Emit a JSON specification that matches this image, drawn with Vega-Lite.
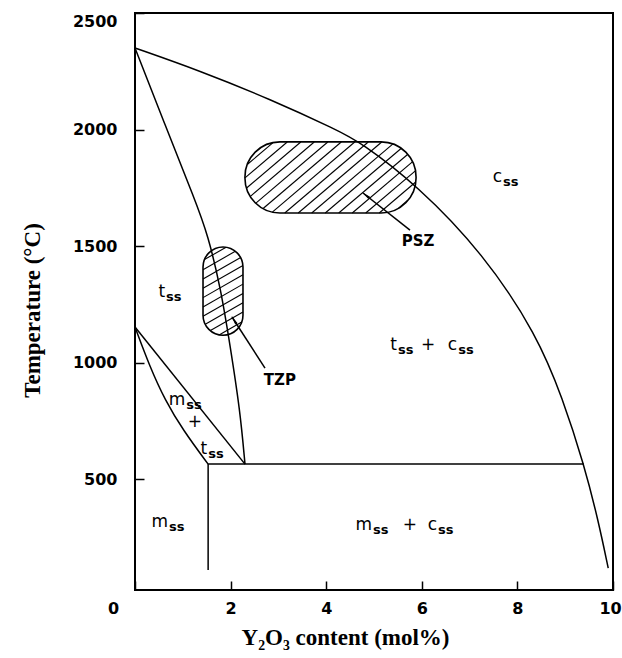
{
  "$schema": "https://vega.github.io/schema/vega-lite/v6.json",
  "width": 478,
  "height": 577,
  "autosize": "none",
  "padding": {"left": 135, "top": 13, "right": 9, "bottom": 68},
  "background": "white",
  "datasets": {
    "curves": [
      {"curve": "cubic", "i": 0, "x": 0, "T": 2350},
      {"curve": "cubic", "i": 1, "x": 1.36, "T": 2252},
      {"curve": "cubic", "i": 2, "x": 2.82, "T": 2131},
      {"curve": "cubic", "i": 3, "x": 4.23, "T": 1998},
      {"curve": "cubic", "i": 4, "x": 4.71, "T": 1947},
      {"curve": "cubic", "i": 5, "x": 5.9, "T": 1762},
      {"curve": "cubic", "i": 6, "x": 7.28, "T": 1470},
      {"curve": "cubic", "i": 7, "x": 8.41, "T": 1120},
      {"curve": "cubic", "i": 8, "x": 8.95, "T": 845},
      {"curve": "cubic", "i": 9, "x": 9.39, "T": 565},
      {"curve": "cubic", "i": 10, "x": 9.69, "T": 325},
      {"curve": "cubic", "i": 11, "x": 9.9, "T": 119},
      {"curve": "tetragonal", "i": 0, "x": 0, "T": 2350},
      {"curve": "tetragonal", "i": 1, "x": 0.628, "T": 2020},
      {"curve": "tetragonal", "i": 2, "x": 1.255, "T": 1698},
      {"curve": "tetragonal", "i": 3, "x": 1.527, "T": 1548},
      {"curve": "tetragonal", "i": 4, "x": 1.799, "T": 1312},
      {"curve": "tetragonal", "i": 5, "x": 1.987, "T": 1076},
      {"curve": "tetragonal", "i": 6, "x": 2.197, "T": 797},
      {"curve": "tetragonal", "i": 7, "x": 2.301, "T": 565},
      {"curve": "monoclinic", "i": 0, "x": 0, "T": 1153},
      {"curve": "monoclinic", "i": 1, "x": 0.314, "T": 981},
      {"curve": "monoclinic", "i": 2, "x": 0.628, "T": 840},
      {"curve": "monoclinic", "i": 3, "x": 1.004, "T": 711},
      {"curve": "monoclinic", "i": 4, "x": 1.53, "T": 565}
    ],
    "segments": [
      {"name": "t / m+t", "x": 0, "T": 1153, "x2": 2.301, "T2": 565},
      {"name": "eutectoid", "x": 1.53, "T": 565, "x2": 9.39, "T2": 565},
      {"name": "m / m+c", "x": 1.53, "T": 565, "x2": 1.53, "T2": 111},
      {"name": "PSZ leader", "x": 5.753, "T": 1569, "x2": 4.77, "T2": 1728},
      {"name": "TZP leader", "x": 2.72, "T": 977, "x2": 2.029, "T2": 1196}
    ],
    "zones": [
      {"zone": "PSZ", "x": 2.3, "x2": 5.88, "T": 1947, "T2": 1642},
      {"zone": "TZP", "x": 1.423, "x2": 2.259, "T": 1496, "T2": 1118}
    ],
    "hatch": [
      {"zone": "PSZ", "x": 2.882, "T": 1943.0, "x2": 2.355, "T2": 1851.1},
      {"zone": "PSZ", "x": 3.185, "T": 1946.7, "x2": 2.301, "T2": 1792.6},
      {"zone": "PSZ", "x": 3.468, "T": 1946.7, "x2": 2.335, "T2": 1749.2},
      {"zone": "PSZ", "x": 3.75, "T": 1946.7, "x2": 2.414, "T2": 1713.7},
      {"zone": "PSZ", "x": 4.033, "T": 1946.7, "x2": 2.529, "T2": 1684.6},
      {"zone": "PSZ", "x": 4.315, "T": 1946.7, "x2": 2.68, "T2": 1661.6},
      {"zone": "PSZ", "x": 4.597, "T": 1946.7, "x2": 2.873, "T2": 1646.1},
      {"zone": "PSZ", "x": 4.88, "T": 1946.7, "x2": 3.133, "T2": 1642.1},
      {"zone": "PSZ", "x": 5.162, "T": 1946.6, "x2": 3.415, "T2": 1642.1},
      {"zone": "PSZ", "x": 5.391, "T": 1937.3, "x2": 3.697, "T2": 1642.1},
      {"zone": "PSZ", "x": 5.566, "T": 1918.6, "x2": 3.98, "T2": 1642.1},
      {"zone": "PSZ", "x": 5.702, "T": 1893.0, "x2": 4.262, "T2": 1642.1},
      {"zone": "PSZ", "x": 5.803, "T": 1861.4, "x2": 4.545, "T2": 1642.1},
      {"zone": "PSZ", "x": 5.865, "T": 1823.0, "x2": 4.827, "T2": 1642.1},
      {"zone": "PSZ", "x": 5.873, "T": 1775.1, "x2": 5.11, "T2": 1642.1},
      {"zone": "PSZ", "x": 5.707, "T": 1697.0, "x2": 5.513, "T2": 1663.2},
      {"zone": "TZP", "x": 1.906, "T": 1495.2, "x2": 1.452, "T2": 1442.3},
      {"zone": "TZP", "x": 2.099, "T": 1478.0, "x2": 1.423, "T2": 1398.9},
      {"zone": "TZP", "x": 2.21, "T": 1451.0, "x2": 1.423, "T2": 1359.0},
      {"zone": "TZP", "x": 2.258, "T": 1416.8, "x2": 1.423, "T2": 1319.1},
      {"zone": "TZP", "x": 2.259, "T": 1377.0, "x2": 1.423, "T2": 1279.2},
      {"zone": "TZP", "x": 2.259, "T": 1337.1, "x2": 1.423, "T2": 1239.3},
      {"zone": "TZP", "x": 2.259, "T": 1297.2, "x2": 1.423, "T2": 1199.5},
      {"zone": "TZP", "x": 2.259, "T": 1257.3, "x2": 1.47, "T2": 1165.0},
      {"zone": "TZP", "x": 2.259, "T": 1217.4, "x2": 1.578, "T2": 1137.8},
      {"zone": "TZP", "x": 2.233, "T": 1174.4, "x2": 1.768, "T2": 1120.1}
    ],
    "arrowheads": [
      {"name": "PSZ", "x": 4.85, "T": 1715},
      {"name": "TZP", "x": 2.086, "T": 1178}
    ],
    "phases": [
      {"main": "t", "sub": "ss", "x": 0.63, "T": 1303},
      {"main": "c", "sub": "ss", "x": 7.68, "T": 1796},
      {"main": "t", "sub": "ss", "x": 5.48, "T": 1076},
      {"main": "c", "sub": "ss", "x": 6.74, "T": 1076},
      {"main": "m", "sub": "ss", "x": 1.05, "T": 840},
      {"main": "t", "sub": "ss", "x": 1.51, "T": 630},
      {"main": "m", "sub": "ss", "x": 0.69, "T": 317},
      {"main": "m", "sub": "ss", "x": 4.96, "T": 304},
      {"main": "c", "sub": "ss", "x": 6.32, "T": 304}
    ],
    "plus": [
      {"text": "+", "x": 6.13, "T": 1076},
      {"text": "+", "x": 1.255, "T": 746},
      {"text": "+", "x": 5.75, "T": 304}
    ],
    "tags": [
      {"text": "PSZ", "x": 5.92, "T": 1522},
      {"text": "TZP", "x": 3.03, "T": 926}
    ]
  },
  "encoding": {
    "x": {
      "field": "x",
      "type": "quantitative",
      "scale": {"domain": [0, 10], "nice": false, "zero": false},
      "axis": {
        "title": "Y₂O₃ content (mol%)",
        "titleX": 210,
        "values": [0, 2, 4, 6, 8, 10],
        "format": "d",
        "labelFlush": false,
        "offset": -9,
        "labelPadding": 10,
        "labelOffset": {
          "condition": [
            {"test": "datum.value === 0", "value": -22},
            {"test": "datum.value === 10", "value": -3}
          ],
          "value": 0
        },
        "titlePadding": 10
      }
    },
    "y": {
      "field": "T",
      "type": "quantitative",
      "scale": {"domain": [25, 2500], "nice": false, "zero": false},
      "axis": {
        "title": "Temperature (°C)",
        "titleY": 297,
        "values": [500, 1000, 1500, 2000, 2500],
        "format": "d",
        "labelFlush": true,
        "offset": -9,
        "labelPadding": 18,
        "titlePadding": 28
      }
    }
  },
  "layer": [
    {
      "data": {"name": "zones"},
      "transform": [{"filter": "datum.zone === 'PSZ'"}],
      "mark": {"type": "rect", "cornerRadius": 35, "fillOpacity": 0, "stroke": "black", "strokeWidth": 1.6},
      "encoding": {"x2": {"field": "x2"}, "y2": {"field": "T2"}}
    },
    {
      "data": {"name": "zones"},
      "transform": [{"filter": "datum.zone === 'TZP'"}],
      "mark": {"type": "rect", "cornerRadius": 20, "fillOpacity": 0, "stroke": "black", "strokeWidth": 1.6},
      "encoding": {"x2": {"field": "x2"}, "y2": {"field": "T2"}}
    },
    {
      "data": {"name": "hatch"},
      "mark": {"type": "rule", "color": "black", "strokeWidth": 1.1},
      "encoding": {"x2": {"field": "x2"}, "y2": {"field": "T2"}}
    },
    {
      "data": {"name": "curves"},
      "mark": {"type": "line", "interpolate": "basis", "color": "black", "strokeWidth": 1.5},
      "encoding": {"detail": {"field": "curve"}, "order": {"field": "i", "type": "quantitative"}}
    },
    {
      "data": {"name": "segments"},
      "mark": {"type": "rule", "color": "black", "strokeWidth": 1.5},
      "encoding": {"x2": {"field": "x2"}, "y2": {"field": "T2"}}
    },
    {
      "data": {"name": "arrowheads"},
      "transform": [{"filter": "datum.name === 'PSZ'"}],
      "mark": {"type": "point", "shape": "wedge", "filled": true, "color": "black", "size": 110, "angle": 308, "opacity": 1}
    },
    {
      "data": {"name": "arrowheads"},
      "transform": [{"filter": "datum.name === 'TZP'"}],
      "mark": {"type": "point", "shape": "wedge", "filled": true, "color": "black", "size": 110, "angle": 327, "opacity": 1}
    },
    {
      "data": {"name": "phases"},
      "mark": {"type": "text", "font": "DejaVu Sans", "fontSize": 17, "align": "right", "baseline": "middle", "color": "black"},
      "encoding": {"text": {"field": "main"}}
    },
    {
      "data": {"name": "phases"},
      "mark": {"type": "text", "font": "DejaVu Sans", "fontSize": 13, "fontWeight": "bold", "align": "left", "baseline": "middle", "dx": 1, "dy": 5, "color": "black"},
      "encoding": {"text": {"field": "sub"}}
    },
    {
      "data": {"name": "plus"},
      "mark": {"type": "text", "font": "DejaVu Sans", "fontSize": 17, "align": "center", "baseline": "middle", "color": "black"},
      "encoding": {"text": {"field": "text"}}
    },
    {
      "data": {"name": "tags"},
      "mark": {"type": "text", "font": "DejaVu Sans", "fontSize": 15, "fontWeight": "bold", "color": "black"},
      "encoding": {"text": {"field": "text"}}
    }
  ],
  "config": {
    "view": {"stroke": "black", "strokeWidth": 2},
    "axis": {
      "domain": false,
      "grid": false,
      "ticks": true,
      "tickSize": 9,
      "tickWidth": 1.5,
      "tickColor": "black",
      "labelFont": "DejaVu Sans",
      "labelFontSize": 16,
      "labelFontWeight": "bold",
      "labelColor": "black",
      "titleFont": "Liberation Serif",
      "titleFontSize": 23,
      "titleFontWeight": "bold",
      "titleColor": "black"
    }
  }
}
